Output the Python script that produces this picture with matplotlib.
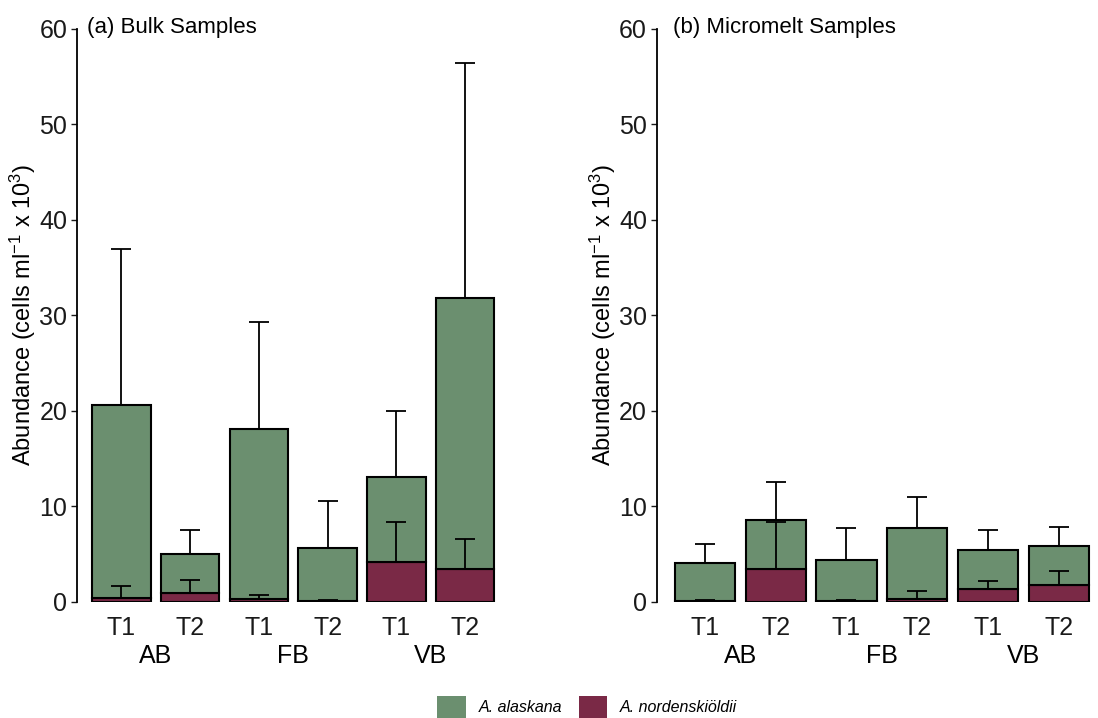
import matplotlib
matplotlib.use("Agg")
import matplotlib.pyplot as plt
from matplotlib.patches import Patch
import numpy as np

plt.rcParams['font.family'] = ['Liberation Sans', 'DejaVu Sans']
plt.rcParams['mathtext.fontset'] = 'custom'
plt.rcParams['mathtext.rm'] = 'Liberation Sans'
plt.rcParams['mathtext.it'] = 'Liberation Sans:italic'

times = ['T1', 'T2', 'T1', 'T2', 'T1', 'T2']
sites = ['AB', 'FB', 'VB']

# bulk samples (cells ml-1 x 10^3)
bulk_alaskana = [20.2, 4.1, 17.8, 5.5, 8.85, 28.4]
bulk_alaskana_sd = [16.4, 2.5, 11.2, 5.0, 6.95, 24.6]
bulk_norden = [0.4, 0.9, 0.3, 0.1, 4.2, 3.4]
bulk_norden_sd = [1.2, 1.4, 0.4, 0.1, 4.1, 3.2]

# micromelt samples
melt_alaskana = [4.0, 5.2, 4.3, 7.4, 4.1, 4.1]
melt_alaskana_sd = [1.9, 3.9, 3.3, 3.3, 2.05, 2.05]
melt_norden = [0.1, 3.4, 0.1, 0.3, 1.35, 1.7]
melt_norden_sd = [0.1, 4.9, 0.1, 0.8, 0.85, 1.5]

green = '#6b8f6f'
red = '#7a2946'

W, H = 1098, 718
fig = plt.figure(figsize=(W / 100, H / 100), dpi=100)


def panel(left_px, width_px, xlo, alas, alas_sd, nord, nord_sd, title, title_px):
    bottom = 1 - 601.7 / H
    height = (601.7 - 29) / H
    ax = fig.add_axes([left_px / W, bottom, width_px / W, height])
    x = np.arange(1, 7)
    alas = np.array(alas)
    nord = np.array(nord)
    total = alas + nord
    ax.bar(x, nord, width=0.85, color=red, edgecolor='black', linewidth=1.5, zorder=2)
    ax.bar(x, alas, bottom=nord, width=0.85, color=green, edgecolor='black',
           linewidth=1.5, zorder=2)
    ax.errorbar(x, total, yerr=[np.zeros(6), alas_sd], fmt='none', ecolor='black',
                elinewidth=1.3, capsize=7, capthick=1.3, zorder=3)
    ax.errorbar(x, nord, yerr=[np.zeros(6), nord_sd], fmt='none', ecolor='black',
                elinewidth=1.3, capsize=7, capthick=1.3, zorder=3)
    ax.set_xlim(xlo, xlo + 6.3)
    ax.set_ylim(0, 60)
    ax.set_yticks([0, 10, 20, 30, 40, 50, 60])
    ax.set_xticks(x)
    ax.set_xticklabels(times)
    ax.tick_params(axis='x', length=0, labelsize=18, pad=10, colors='#1a1a1a')
    ax.tick_params(axis='y', length=4, width=1, labelsize=18, pad=3, colors='#1a1a1a')
    for s in ['top', 'right', 'bottom']:
        ax.spines[s].set_visible(False)
    ax.spines['left'].set_linewidth(1.3)
    ax.set_ylabel(r'Abundance (cells ml$^{-1}$ x 10$^{3}$)', fontsize=17, labelpad=1)
    for i, s in enumerate(sites):
        ax.text(2 * i + 1.5, -0.095, s, transform=ax.get_xaxis_transform(),
                ha='center', va='center', fontsize=18)
    fig.text(title_px / W, 1 - 27 / H, title, fontsize=16, ha='left', va='center')
    return ax


panel(77, 433, 0.353, bulk_alaskana, bulk_alaskana_sd, bulk_norden, bulk_norden_sd,
      '(a) Bulk Samples', 87)
panel(656.7, 446, 0.32, melt_alaskana, melt_alaskana_sd, melt_norden, melt_norden_sd,
      '(b) Micromelt Samples', 673)

handles = [Patch(facecolor=green, edgecolor='none'), Patch(facecolor=red, edgecolor='none')]
fig.legend(handles, ['A. alaskana', 'A. nordenskiöldii'], loc='center',
           bbox_to_anchor=(587 / W, 1 - 707 / H), ncol=2, frameon=False,
           prop={'style': 'italic', 'size': 11.5}, handlelength=1.8, handleheight=1.8,
           handletextpad=0.8, columnspacing=1.05)

fig.savefig('out.png', dpi=100)
